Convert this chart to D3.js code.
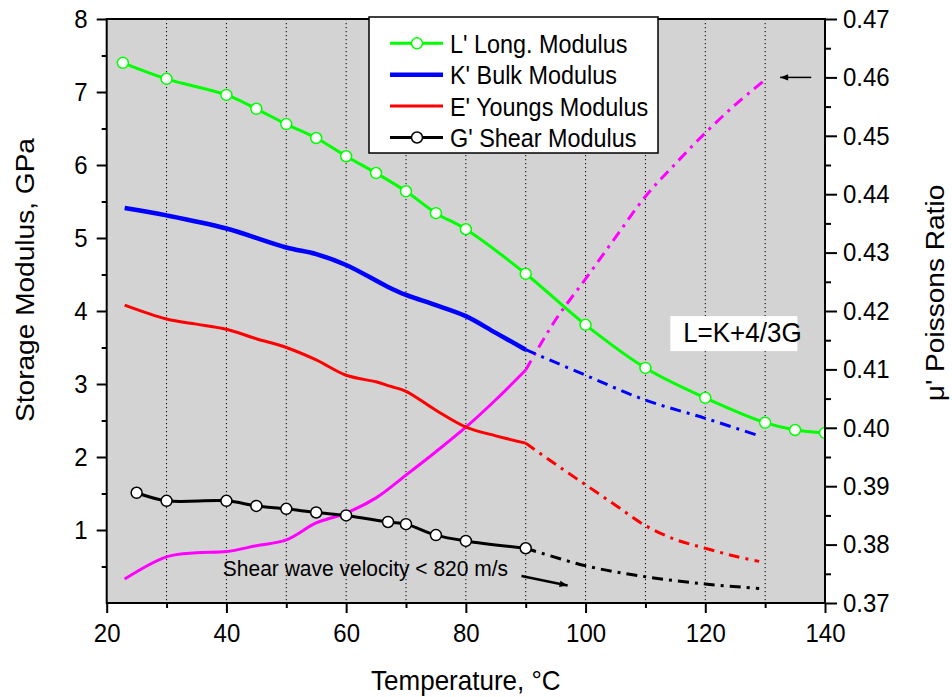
<!DOCTYPE html>
<html><head><meta charset="utf-8">
<script src="https://cdn.jsdelivr.net/npm/d3@7/dist/d3.min.js"></script>
<style>
body{margin:0;background:#fff}
text{font-family:"Liberation Sans",Arial,sans-serif;fill:#000}
</style>
</head><body>
<svg id="chart" width="952" height="697"></svg>
<script>
// ---------- data ----------
const lTemps = [22.7,30,40,45,50,55,60,65,70,75,80,90,100,110,120,130,135,140];
const lVals  = [7.40,7.18,6.96,6.77,6.56,6.37,6.12,5.89,5.64,5.34,5.12,4.51,3.81,3.22,2.81,2.47,2.37,2.33];

const kTemps = [23,30,40,50,55,60,67,70,75,80,85,90];
const kVals  = [5.41,5.31,5.13,4.87,4.78,4.63,4.33,4.22,4.08,3.93,3.70,3.47];
const kExtTemps = [90,100,110,120,129];
const kExtVals  = [3.47,3.12,2.78,2.53,2.29];

const eTemps = [23,30,35,40,45,50,55,60,65,67.3,70,75,80,85,90];
const eVals  = [4.08,3.89,3.82,3.75,3.62,3.50,3.33,3.12,3.03,2.97,2.90,2.64,2.41,2.29,2.19];
const eExtTemps = [90,95,100,105,110,115,120,125,129];
const eExtVals  = [2.19,1.90,1.62,1.34,1.06,0.87,0.75,0.64,0.57];

const gTemps = [25,30,40,45,50,55,60,67,70,75,80,90];
const gVals  = [1.51,1.40,1.40,1.33,1.29,1.24,1.20,1.11,1.08,0.93,0.85,0.75];
const gExtTemps = [90,100,110,120,129];
const gExtVals  = [0.75,0.51,0.36,0.26,0.20];

const muTemps = [23,30,35,40,45,50,55,60,65,70,75,80,85,90];
const muVals  = [0.3741,0.3779,0.3786,0.3788,0.3798,0.3808,0.3837,0.3854,0.3880,0.3919,0.3959,0.4001,0.4048,0.4099];
const muExtTemps = [90,95,100,105,110,115,120,125,130];
const muExtVals  = [0.4099,0.4185,0.4255,0.4326,0.4396,0.4452,0.4505,0.4553,0.4596];

const xTicks = [20,40,60,80,100,120,140];
const xMinor = [30,50,70,90,110,130];
const gridTemps = [30,40,50,60,70,80,90,100,110,120,130];
const yLTicks = [1,2,3,4,5,6,7,8];
const yLMinor = [0.5,1.5,2.5,3.5,4.5,5.5,6.5,7.5];
const yRTicks = [0.37,0.38,0.39,0.40,0.41,0.42,0.43,0.44,0.45,0.46,0.47];
const yRMinor = [0.375,0.385,0.395,0.405,0.415,0.425,0.435,0.445,0.455,0.465];

const legendLabels = ["L' Long. Modulus","K' Bulk Modulus","E' Youngs Modulus","G' Shear Modulus"];

// ---------- layout ----------
const svg = d3.select("#chart");
const X0 = 106.7, X1 = 825, Y0 = 603, Y1 = 19;
const SY = 1.08; // vertical stretch of lettering in the original
const x  = d3.scaleLinear().domain([20,140]).range([X0,X1]);
const yL = d3.scaleLinear().domain([0,8]).range([Y0,Y1]);
const yR = d3.scaleLinear().domain([0.37,0.47]).range([Y0,Y1]);

function addText(g, tx, ty, size, str, anchor, rot){
  return g.append("text")
    .attr("transform",`translate(${tx},${ty})${rot?` rotate(${rot})`:""} scale(${rot?SY:1},${rot?1:SY})`)
    .attr("font-size",size).attr("text-anchor",anchor||"start").text(str);
}

const defs = svg.append("defs");
defs.append("clipPath").attr("id","plotClip").append("rect")
  .attr("x",X0).attr("y",Y1).attr("width",X1-X0).attr("height",Y0-Y1);
defs.append("marker").attr("id","arrowHead").attr("viewBox","0 0 10 10")
  .attr("refX",10).attr("refY",5).attr("markerWidth",10).attr("markerHeight",8)
  .attr("markerUnits","userSpaceOnUse").attr("orient","auto")
  .append("path").attr("d","M0,1 L10,5 L0,9 Z").attr("fill","#000");

// background
svg.append("rect").attr("x",X0).attr("y",Y1).attr("width",X1-X0).attr("height",Y0-Y1)
  .attr("fill","#d3d3d3");

// grid
svg.append("g").selectAll("line").data(gridTemps).join("line")
  .attr("x1",d=>x(d)).attr("x2",d=>x(d)).attr("y1",Y1).attr("y2",Y0)
  .attr("stroke","#000").attr("stroke-width",1).attr("stroke-dasharray","1.2,2.8");

const plot = svg.append("g").attr("clip-path","url(#plotClip)");
const curve = d3.curveCatmullRom.alpha(0.5);
const lineL = (xs,ys)=> d3.line().curve(curve)
  .x((d,i)=>x(xs[i])).y((d,i)=>yL(ys[i]))(xs);
const lineR = (xs,ys)=> d3.line().curve(curve)
  .x((d,i)=>x(xs[i])).y((d,i)=>yR(ys[i]))(xs);
const DD = "11,6,3,6";

// Poisson ratio (magenta)
plot.append("path").attr("d",lineR(muTemps,muVals)).attr("fill","none")
  .attr("stroke","#ff00ff").attr("stroke-width",3);
plot.append("path").attr("d",lineR(muExtTemps,muExtVals)).attr("fill","none")
  .attr("stroke","#ff00ff").attr("stroke-width",3).attr("stroke-dasharray",DD);

// E red
plot.append("path").attr("d",lineL(eTemps,eVals)).attr("fill","none")
  .attr("stroke","#ff0000").attr("stroke-width",3);
plot.append("path").attr("d",lineL(eExtTemps,eExtVals)).attr("fill","none")
  .attr("stroke","#ff0000").attr("stroke-width",3).attr("stroke-dasharray",DD);

// K blue
plot.append("path").attr("d",lineL(kTemps,kVals)).attr("fill","none")
  .attr("stroke","#0000ff").attr("stroke-width",4.5);
plot.append("path").attr("d",lineL(kExtTemps,kExtVals)).attr("fill","none")
  .attr("stroke","#0000ff").attr("stroke-width",3).attr("stroke-dasharray",DD);

// G black
plot.append("path").attr("d",lineL(gTemps,gVals)).attr("fill","none")
  .attr("stroke","#000").attr("stroke-width",3);
plot.append("path").attr("d",lineL(gExtTemps,gExtVals)).attr("fill","none")
  .attr("stroke","#000").attr("stroke-width",3).attr("stroke-dasharray",DD);
plot.append("g").selectAll("circle").data(gTemps).join("circle")
  .attr("cx",d=>x(d)).attr("cy",(d,i)=>yL(gVals[i])).attr("r",5.5)
  .attr("fill","#fff").attr("stroke","#000").attr("stroke-width",1.5);

// L green
plot.append("path").attr("d",lineL(lTemps,lVals)).attr("fill","none")
  .attr("stroke","#00ff00").attr("stroke-width",3);
plot.append("g").selectAll("circle").data(lTemps).join("circle")
  .attr("cx",d=>x(d)).attr("cy",(d,i)=>yL(lVals[i])).attr("r",5.5)
  .attr("fill","#fff").attr("stroke","#00ff00").attr("stroke-width",1.5);

// annotations
const lk = svg.append("g");
lk.append("rect").attr("x",x(115)-5).attr("y",yL(3.93)).attr("width",127).attr("height",35).attr("fill","#fff");
addText(lk, x(116.3), yL(3.57), 26, "L=K+4/3G");

addText(svg, x(39.4), yL(0.37), 21, "Shear wave velocity < 820 m/s");
svg.append("line").attr("x1",x(89.3)).attr("y1",yL(0.37)).attr("x2",x(97.0)).attr("y2",yL(0.24))
  .attr("stroke","#000").attr("stroke-width",2.5).attr("marker-end","url(#arrowHead)");
svg.append("line").attr("x1",x(137.7)).attr("y1",yR(0.46)).attr("x2",x(132.5)).attr("y2",yR(0.46))
  .attr("stroke","#000").attr("stroke-width",1.5).attr("marker-end","url(#arrowHead)");

// axes
function styleAxis(g){ g.select(".domain").remove();
  g.selectAll(".tick line").attr("stroke","#000").attr("stroke-width",2);
  g.selectAll("text").attr("font-size",24).attr("font-family","'Liberation Sans',Arial,sans-serif")
    .attr("fill","#000").attr("transform",`scale(1,${SY})`); }

svg.append("g").attr("transform",`translate(0,${Y0})`)
  .call(d3.axisBottom(x).tickValues(xTicks).tickSize(10).tickPadding(9).tickFormat(d3.format("d"))).call(styleAxis);
svg.append("g").attr("transform",`translate(0,${Y0})`)
  .call(d3.axisBottom(x).tickValues(xMinor).tickSize(5).tickFormat("")).call(styleAxis);

svg.append("g").attr("transform",`translate(${X0},0)`)
  .call(d3.axisLeft(yL).tickValues(yLTicks).tickSize(10).tickPadding(9).tickFormat(d3.format("d"))).call(styleAxis);
svg.append("g").attr("transform",`translate(${X0},0)`)
  .call(d3.axisLeft(yL).tickValues(yLMinor).tickSize(5).tickFormat("")).call(styleAxis);

svg.append("g").attr("transform",`translate(${X1},0)`)
  .call(d3.axisRight(yR).tickValues(yRTicks).tickSize(12).tickPadding(6).tickFormat(d3.format(".2f"))).call(styleAxis);
svg.append("g").attr("transform",`translate(${X1},0)`)
  .call(d3.axisRight(yR).tickValues(yRMinor).tickSize(6).tickFormat("")).call(styleAxis);

// frame
svg.append("rect").attr("x",X0).attr("y",Y1).attr("width",X1-X0).attr("height",Y0-Y1)
  .attr("fill","none").attr("stroke","#000").attr("stroke-width",2);

// axis titles
addText(svg, (X0+X1)/2, 690, 26, "Temperature, °C", "middle");
addText(svg, 34, 280, 26, "Storage Modulus, GPa", "middle", -90);
addText(svg, 944, 293, 26, "μ' Poissons Ratio", "middle", -90);

// legend
const leg = svg.append("g");
leg.append("rect").attr("x",369).attr("y",17).attr("width",289).attr("height",136)
  .attr("fill","#fff").attr("stroke","#000").attr("stroke-width",1.5);
const legStyles = [
  {c:"#00ff00", w:3, m:true},
  {c:"#0000ff", w:4.5, m:false},
  {c:"#ff0000", w:3, m:false},
  {c:"#000000", w:3, m:true}
];
legendLabels.forEach((lab,i)=>{
  const cy = 43.3 + i*31.4;
  const s = legStyles[i];
  leg.append("line").attr("x1",390).attr("x2",443).attr("y1",cy).attr("y2",cy)
    .attr("stroke",s.c).attr("stroke-width",s.w);
  if(s.m) leg.append("circle").attr("cx",417).attr("cy",cy).attr("r",5.5)
    .attr("fill","#fff").attr("stroke",s.c).attr("stroke-width",1.5);
  addText(leg, 450, cy+9.5, 23.4, lab);
});
</script>
</body></html>
